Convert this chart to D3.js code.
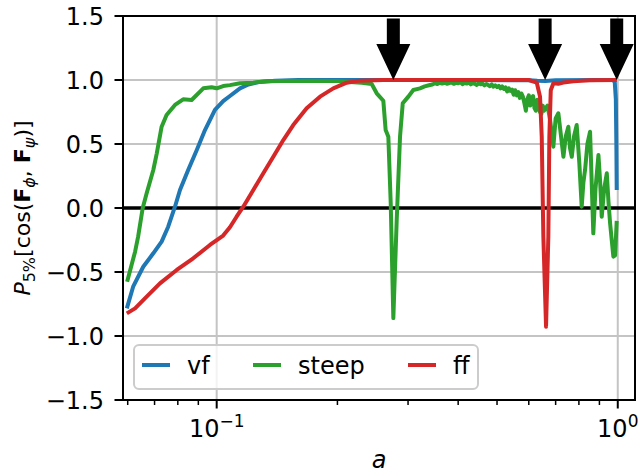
<!DOCTYPE html>
<html>
<head>
<meta charset="utf-8">
<script src="https://cdn.jsdelivr.net/npm/d3@7"></script>
<style>
  body { margin: 0; background: #fff; }
  text { font-family: "DejaVu Sans", sans-serif; fill: #000; }
</style>
</head>
<body>
<div id="chart"></div>
<script>
// Chart data
var vfA = [0.0597, 0.0619, 0.0656, 0.0695, 0.0729, 0.0757, 0.0787, 0.0810, 0.0849, 0.0892, 0.0935, 0.0990, 0.1038, 0.1079, 0.1143, 0.1200, 0.128, 0.140, 0.160, 0.25, 0.40, 0.60, 0.63, 0.66, 0.70, 0.90, 0.975, 0.983, 0.989, 0.992, 0.994];
var vfY = [-0.784, -0.615, -0.459, -0.354, -0.263, -0.146, 0.01, 0.141, 0.297, 0.453, 0.609, 0.766, 0.835, 0.875, 0.935, 0.965, 0.985, 0.995, 1.0, 1.0, 1.0, 0.998, 0.994, 0.993, 0.998, 1.0, 1.0, 0.98, 0.85, 0.5, 0.14];

var steepA = [0.0598, 0.0626, 0.0637, 0.0654, 0.0669, 0.0695, 0.0709, 0.0729, 0.0750, 0.0787, 0.0825, 0.0866, 0.0926, 0.0971, 0.1000, 0.1038, 0.1079, 0.1143, 0.1233, 0.133, 0.145, 0.170, 0.200, 0.215, 0.230, 0.2435, 0.2506, 0.2603, 0.2638, 0.2679, 0.2716, 0.2757, 0.2811, 0.2865, 0.2910, 0.3005, 0.3092, 0.3213, 0.3300, 0.3404,
  0.345, 0.350, 0.355, 0.360, 0.365, 0.370, 0.375, 0.380, 0.385, 0.390, 0.395, 0.400, 0.405, 0.410, 0.415, 0.420, 0.425, 0.430, 0.435, 0.440, 0.445, 0.450, 0.455, 0.460, 0.465, 0.470, 0.475, 0.480, 0.485, 0.490, 0.495, 0.500, 0.505, 0.510, 0.515, 0.520, 0.525, 0.530, 0.535, 0.540, 0.545, 0.550, 0.555, 0.560, 0.565, 0.570, 0.575, 0.580, 0.585, 0.590, 0.595, 0.600, 0.605, 0.610, 0.615, 0.620, 0.625, 0.630, 0.635, 0.640, 0.645, 0.650, 0.655,
  0.668, 0.678, 0.691, 0.700, 0.711, 0.722, 0.732, 0.742, 0.753, 0.760, 0.768, 0.778, 0.790, 0.802, 0.813, 0.821, 0.829, 0.840, 0.853, 0.861, 0.869, 0.880, 0.895, 0.904, 0.912, 0.925, 0.939, 0.948, 0.957, 0.966, 0.975, 0.985, 0.994];
var steepY = [-0.576, -0.341, -0.224, 0.0, 0.115, 0.297, 0.427, 0.635, 0.727, 0.805, 0.849, 0.844, 0.935, 0.943, 0.935, 0.953, 0.960, 0.975, 0.979, 0.99, 0.992, 0.995, 0.993, 0.985, 0.978, 0.969, 0.896, 0.838, 0.609, 0.557, 0.037, -0.86, -0.094, 0.557, 0.818, 0.870, 0.922, 0.935, 0.950, 0.961,
  0.965, 0.975, 0.968, 0.978, 0.972, 0.980, 0.970, 0.976, 0.982, 0.970, 0.978, 0.974, 0.984, 0.968, 0.976, 0.972, 0.980, 0.966, 0.975, 0.970, 0.962, 0.974, 0.966, 0.972, 0.958, 0.968, 0.960, 0.952, 0.966, 0.948, 0.958, 0.945, 0.955, 0.935, 0.950, 0.930, 0.942, 0.910, 0.935, 0.915, 0.925, 0.885, 0.920, 0.880, 0.905, 0.860, 0.895, 0.870, 0.820, 0.760, 0.850, 0.880, 0.800, 0.860, 0.875, 0.780, 0.760, 0.845, 0.830, 0.750, 0.735, 0.800, 0.760,
  0.800, 0.690, 0.479, 0.700, 0.740, 0.560, 0.400, 0.560, 0.635, 0.470, 0.400, 0.560, 0.648, 0.350, 0.010, 0.200, 0.300, 0.500, 0.596, 0.200, -0.198, 0.150, 0.414, 0.200, -0.068, 0.150, 0.271, 0.050, -0.120, -0.250, -0.380, -0.370, -0.100];

var ffA = [0.0597, 0.0626, 0.0669, 0.0722, 0.0795, 0.0874, 0.0962, 0.1038, 0.1079, 0.1120, 0.1165, 0.1234, 0.1307, 0.1384, 0.1466, 0.1552, 0.1676, 0.1810, 0.1953, 0.2110, 0.227, 0.26, 0.60, 0.628, 0.640, 0.6463, 0.6523, 0.6625, 0.6713, 0.6752, 0.6807, 0.6910, 0.7110, 0.7317, 0.7750, 0.85, 0.995];
var ffY = [-0.823, -0.784, -0.693, -0.589, -0.484, -0.393, -0.289, -0.215, -0.15, -0.07, 0.01, 0.141, 0.271, 0.40, 0.531, 0.648, 0.779, 0.87, 0.935, 0.979, 0.995, 1.0, 1.0, 0.98, 0.87, 0.557, -0.22, -0.927, -0.22, 0.557, 0.92, 0.974, 0.97, 0.98, 0.99, 0.998, 1.0];

var seriesNames = ["vf", "steep", "ff"];
var seriesColors = ["#1f77b4", "#2ca02c", "#d62728"];

var arrowA = [0.2757, 0.659, 0.994];
var arrowTip = 1.0;
var arrowTail = 1.48;

var yTicks = [-1.5, -1.0, -0.5, 0.0, 0.5, 1.0, 1.5];
var xMajor = [0.1, 1];
var xMajorExp = ["\u22121", "0"];
var xMinor = [0.06, 0.07, 0.08, 0.09, 0.2, 0.3, 0.4, 0.5, 0.6, 0.7, 0.8, 0.9];

// Layout
var svgWidth = 639;
var svgHeight = 474;
var margin = { top: 16, right: 4, bottom: 74, left: 123 };
var width = svgWidth - margin.left - margin.right;
var height = svgHeight - margin.top - margin.bottom;

var svg = d3.select("#chart")
  .append("svg")
  .attr("width", svgWidth)
  .attr("height", svgHeight);

var chartGroup = svg.append("g")
  .attr("transform", `translate(${margin.left}, ${margin.top})`);

var x = d3.scaleLog().domain([0.0584, 1.104]).range([0, width]);
var y = d3.scaleLinear().domain([-1.5, 1.5]).range([height, 0]);

// grid
chartGroup.selectAll(".xgrid")
  .data(xMajor)
  .enter()
  .append("line")
  .attr("x1", d => x(d)).attr("x2", d => x(d))
  .attr("y1", 0).attr("y2", height)
  .attr("stroke", "#c4c4c4").attr("stroke-width", 2);

chartGroup.selectAll(".ygrid")
  .data(yTicks)
  .enter()
  .append("line")
  .attr("x1", 0).attr("x2", width)
  .attr("y1", d => y(d)).attr("y2", d => y(d))
  .attr("stroke", "#c4c4c4").attr("stroke-width", 2);

// zero line
chartGroup.append("line")
  .attr("x1", 0).attr("x2", width)
  .attr("y1", y(0)).attr("y2", y(0))
  .attr("stroke", "#000").attr("stroke-width", 3.5);

// series
var allA = [vfA, steepA, ffA];
var allY = [vfY, steepY, ffY];

var line = d3.line()
  .x(d => x(d[0]))
  .y(d => y(d[1]));

allA.forEach(function(aVals, i) {
  var pts = aVals.map((a, j) => [a, allY[i][j]]);
  chartGroup.append("path")
    .datum(pts)
    .attr("d", line)
    .attr("fill", "none")
    .attr("stroke", seriesColors[i])
    .attr("stroke-width", 4)
    .attr("stroke-linejoin", "round")
    .attr("stroke-linecap", "butt");
});

// arrows
var shaftW = 13, headW = 34, headL = 36;
chartGroup.selectAll(".arrow")
  .data(arrowA)
  .enter()
  .append("path")
  .attr("d", function(d) {
    var cx = x(d), tip = y(arrowTip), tail = y(arrowTail);
    var hb = tip - headL;
    return `M${cx - shaftW / 2},${tail} L${cx + shaftW / 2},${tail} L${cx + shaftW / 2},${hb} L${cx + headW / 2},${hb} L${cx},${tip} L${cx - headW / 2},${hb} L${cx - shaftW / 2},${hb} Z`;
  })
  .attr("fill", "#000");

// frame
chartGroup.append("rect")
  .attr("width", width).attr("height", height)
  .attr("fill", "none").attr("stroke", "#000").attr("stroke-width", 2);

// y ticks
chartGroup.selectAll(".ytick")
  .data(yTicks)
  .enter()
  .append("line")
  .attr("x1", -8.5).attr("x2", 0)
  .attr("y1", d => y(d)).attr("y2", d => y(d))
  .attr("stroke", "#000").attr("stroke-width", 2);

chartGroup.selectAll(".ylabel")
  .data(yTicks)
  .enter()
  .append("text")
  .attr("x", -19)
  .attr("y", d => y(d) + 8.7)
  .attr("text-anchor", "end")
  .style("font-size", "24px")
  .text(d => d3.format(".1f")(d).replace("-", "\u2212"));

// x ticks
chartGroup.selectAll(".xtick")
  .data(xMajor)
  .enter()
  .append("line")
  .attr("x1", d => x(d)).attr("x2", d => x(d))
  .attr("y1", height).attr("y2", height + 8.5)
  .attr("stroke", "#000").attr("stroke-width", 2);

chartGroup.selectAll(".xminor")
  .data(xMinor)
  .enter()
  .append("line")
  .attr("x1", d => x(d)).attr("x2", d => x(d))
  .attr("y1", height).attr("y2", height + 5)
  .attr("stroke", "#000").attr("stroke-width", 1.5);

xMajor.forEach(function(d, i) {
  var t = chartGroup.append("text")
    .attr("x", x(d))
    .attr("y", height + 37)
    .attr("text-anchor", "middle")
    .style("font-size", "24px");
  t.append("tspan").text("10");
  t.append("tspan").attr("dy", -10).style("font-size", "17px").text(xMajorExp[i]);
});

// axis titles
chartGroup.append("text")
  .attr("x", width / 2)
  .attr("y", height + 68)
  .attr("text-anchor", "middle")
  .style("font-size", "24px")
  .style("font-style", "italic")
  .text("a");

var yTitle = svg.append("text")
  .attr("transform", `translate(30, ${margin.top + y(0)}) rotate(-90)`)
  .attr("text-anchor", "middle")
  .style("font-size", "22px");
yTitle.append("tspan").style("font-style", "italic").text("P");
yTitle.append("tspan").attr("dy", 5).style("font-size", "16px").text("5%");
yTitle.append("tspan").attr("dy", -5).text("[cos(");
yTitle.append("tspan").style("font-weight", "bold").text("F");
yTitle.append("tspan").attr("dy", 5).style("font-size", "16px").style("font-style", "italic").text("\u03d5");
yTitle.append("tspan").attr("dy", -5).text(", ");
yTitle.append("tspan").style("font-weight", "bold").text("F");
yTitle.append("tspan").attr("dy", 5).style("font-size", "16px").style("font-style", "italic").text("\u03c8");
yTitle.append("tspan").attr("dy", -5).text(")]");

// legend
var legend = svg.append("g").attr("transform", "translate(134, 345)");
legend.append("rect")
  .attr("width", 344).attr("height", 44)
  .attr("rx", 5).attr("ry", 5)
  .attr("fill", "#fff").attr("fill-opacity", 0.8)
  .attr("stroke", "#cccccc").attr("stroke-width", 2);

var legendX = [8, 119, 274];
seriesNames.forEach(function(name, i) {
  legend.append("line")
    .attr("x1", legendX[i]).attr("x2", legendX[i] + 28)
    .attr("y1", 20).attr("y2", 20)
    .attr("stroke", seriesColors[i]).attr("stroke-width", 4);
  legend.append("text")
    .attr("x", legendX[i] + 45)
    .attr("y", 29)
    .style("font-size", "24px")
    .text(name);
});
</script>
</body>
</html>
